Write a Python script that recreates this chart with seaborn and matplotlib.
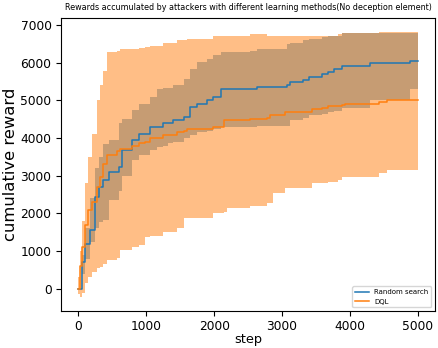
import numpy as np
import pandas as pd
import matplotlib
matplotlib.use("Agg")
import matplotlib.pyplot as plt
import seaborn as sns

# Random search: step grid, mean and band edges
rs_step = [0, 50, 100, 170, 250, 300, 370, 450, 600, 650, 790, 900, 1060, 1160, 1250,
           1320, 1400, 1550, 1650, 1750, 1890, 1990, 2100, 2530, 2630, 3070, 3120, 3310,
           3390, 3590, 3680, 3760, 3880, 4300, 4880, 5000]
rs_mean = [0, 700, 1200, 1560, 2440, 2700, 2880, 3100, 3230, 3680, 3940, 4100, 4290, 4290, 4390,
           4390, 4470, 4560, 4820, 4910, 5000, 5090, 5300, 5300, 5355, 5415, 5485, 5530,
           5615, 5700, 5745, 5835, 5905, 5985, 6055, 6055]
rs_low = [0, 400, 800, 1250, 1600, 1780, 1830, 2350, 2600, 3000, 3410, 3550, 3680, 3760, 3800,
          3860, 3900, 4000, 4080, 4160, 4200, 4250, 4300, 4300, 4320, 4330, 4470, 4530,
          4600, 4640, 4680, 4720, 4790, 5000, 5310, 5310]
rs_high = [0, 900, 1600, 2400, 3200, 3500, 3850, 3950, 4390, 4500, 4740, 4900, 5100, 5310, 5320,
           5330, 5400, 5570, 5840, 6010, 6100, 6200, 6280, 6320, 6370, 6500, 6520, 6590,
           6620, 6680, 6700, 6720, 6790, 6800, 6800, 6800]

# DQL
dql_step = [0, 25, 50, 100, 150, 200, 275, 325, 370, 420, 570, 620, 790, 890, 985, 1060,
            1250, 1450, 1550, 1600, 1990, 2140, 2185, 2530, 2780, 2820, 2870, 3040, 3440,
            3590, 3680, 3830, 3880, 3930, 4420, 4540, 5000]
dql_mean = [0, 600, 1100, 1700, 2100, 2300, 2700, 2970, 3300, 3545, 3650, 3700, 3780, 3860, 3900,
            4000, 4080, 4170, 4200, 4250, 4300, 4470, 4470, 4500, 4520, 4600, 4600, 4700, 4760,
            4790, 4850, 4850, 4880, 4910, 4960, 5000, 5020]
dql_low = [-150, -230, -100, 150, 325, 450, 550, 590, 650, 770, 820, 1030, 1100, 1160, 1380,
           1400, 1520, 1610, 1875, 1875, 2000, 2050, 2140, 2200, 2270, 2270, 2540, 2670, 2800,
           2820, 2840, 2880, 2970, 2970, 3070, 3150, 3190]
dql_high = [300, 1000, 1800, 2800, 3500, 4120, 5000, 5400, 5790, 6280, 6320, 6350, 6370, 6400,
            6420, 6450, 6530, 6590, 6600, 6620, 6700, 6720, 6720, 6750, 6720, 6720, 6720, 6720,
            6720, 6720, 6720, 6750, 6780, 6800, 6810, 6820, 6830]

df = pd.concat([
    pd.DataFrame({"step": rs_step, "reward": rs_mean, "method": "Random search"}),
    pd.DataFrame({"step": dql_step, "reward": dql_mean, "method": "DQL"}),
])

blue, orange = sns.color_palette("tab10")[:2]

fig, ax = plt.subplots(figsize=(4.38, 3.48), dpi=100)
ax.fill_between(rs_step, rs_low, rs_high, step="post", color=blue, alpha=0.5, lw=0)
ax.fill_between(dql_step, dql_low, dql_high, step="post", color=orange, alpha=0.5, lw=0)
sns.lineplot(data=df, x="step", y="reward", hue="method", palette=[blue, orange],
             estimator=None, drawstyle="steps-post", linewidth=1.1, ax=ax)

ax.set_title("Rewards accumulated by attackers with different learning methods(No deception element)",
             fontsize=5.8)
ax.set_xlabel("step", fontsize=9.3, labelpad=0)
ax.set_ylabel("cumulative reward", fontsize=11.8, labelpad=2)
ax.tick_params(labelsize=8.8)
ax.set_yticks(range(0, 7001, 1000))
ax.set_xticks(range(0, 5001, 1000))
ax.legend(loc="lower right", fontsize=5, title=None)

fig.subplots_adjust(left=0.14, right=0.993, bottom=0.107, top=0.948)
fig.savefig("out.png")
